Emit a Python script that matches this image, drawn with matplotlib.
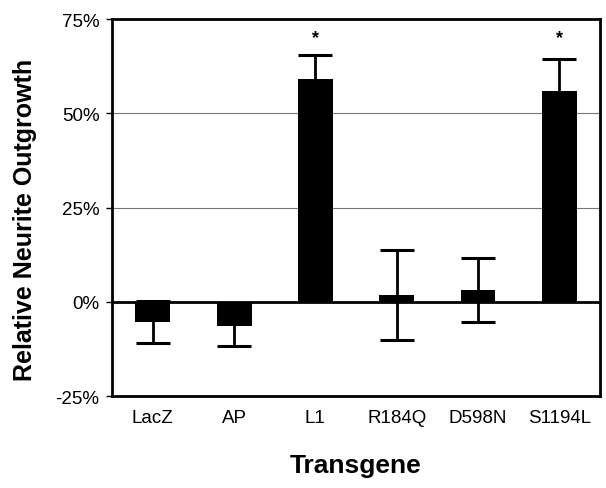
import matplotlib.pyplot as plt
from matplotlib.ticker import FuncFormatter

# -----------------------
# Data
# -----------------------
transgenes = ["LacZ", "AP", "L1", "R184Q", "D598N", "S1194L"]
outgrowth = [-5.3, -6.3, 59.2, 1.9, 3.2, 56.0]
sem = [5.6, 5.4, 6.3, 11.9, 8.5, 8.3]
significant = [False, False, True, False, False, True]
y_ticks = [-25, 0, 25, 50, 75]

plt.rcParams['font.family'] = ['Liberation Sans', 'DejaVu Sans']

fig = plt.figure(figsize=(6.06, 4.89), dpi=100)
ax = fig.add_axes([0.185, 0.188, 0.805, 0.771])

x = range(len(transgenes))

# gridlines + zero line
for t in [25, 50]:
    ax.axhline(t, color='#777777', lw=0.8, zorder=0)
ax.axhline(0, color='black', lw=2, zorder=4)

# error bars sit behind the bars so the hidden half is covered
ax.errorbar(x, outgrowth, yerr=sem, fmt='none', ecolor='black',
            elinewidth=2, capsize=12.5, capthick=2.2, zorder=2)
ax.bar(x, outgrowth, width=0.43, color='black', zorder=3)

for i, sig in enumerate(significant):
    if sig:
        ax.text(i, 70, "*", ha='center', va='center', fontsize=13,
                fontweight='bold')

ax.set_xlim(-0.5, 5.5)
ax.set_ylim(-25, 75)
ax.set_yticks(y_ticks)
ax.yaxis.set_major_formatter(FuncFormatter(lambda v, p: f"{v:.0f}%"))
ax.set_xticks(list(x))
ax.set_xticklabels(transgenes)

ax.tick_params(axis='y', direction='out', length=4, width=1, labelsize=13.5, pad=5)
ax.tick_params(axis='x', length=0, labelsize=13.5, pad=9)

for s in ax.spines.values():
    s.set_linewidth(2)

ax.set_ylabel("Relative Neurite Outgrowth", fontsize=18, fontweight='bold')
ax.yaxis.set_label_coords(-0.154, 0.47)
ax.set_xlabel("Transgene", fontsize=19, fontweight='bold', labelpad=20)

plt.savefig("out.png", dpi=100)
